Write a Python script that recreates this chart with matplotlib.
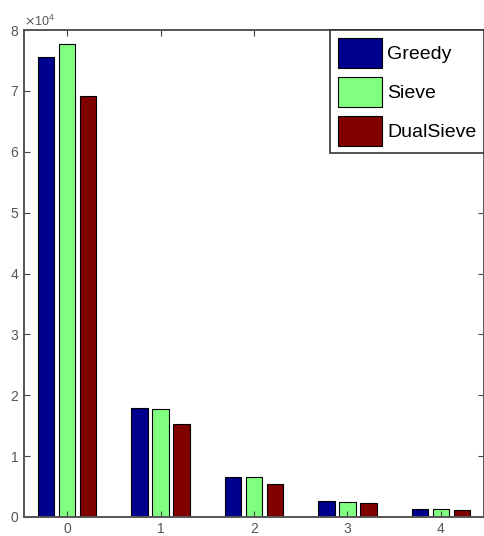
import numpy as np
import matplotlib.pyplot as plt
from matplotlib.ticker import ScalarFormatter

groups = [0, 1, 2, 3, 4]
greedy = [75600, 17900, 6500, 2700, 1300]
sieve = [77700, 17700, 6500, 2500, 1300]
dualsieve = [69200, 15300, 5500, 2300, 1100]

names = ["Greedy", "Sieve", "DualSieve"]
colors = ["#00008f", "#80ff80", "#800000"]

plt.rcParams['font.family'] = ['Liberation Sans', 'DejaVu Sans']

fig = plt.figure(figsize=(4.85, 5.36), dpi=100)
ax = fig.add_axes([24 / 485, 19 / 536, 460 / 485, 487 / 536])

x = np.array(groups)
w = 0.18
step = 0.225
for i, (vals, name, c) in enumerate(zip([greedy, sieve, dualsieve], names, colors)):
    ax.bar(x + (i - 1) * step, vals, width=w, color=c, edgecolor='black',
           linewidth=0.8, label=name)

ax.set_xlim(-0.46, 4.46)
ax.set_ylim(0, 80000)
ax.set_xticks(groups)
ax.set_yticks(np.arange(0, 80001, 10000))

fmt = ScalarFormatter(useMathText=True)
fmt.set_powerlimits((0, 0))
ax.yaxis.set_major_formatter(fmt)
ax.yaxis.get_offset_text().set_fontsize(9)
ax.yaxis.get_offset_text().set_color('#555555')

ax.tick_params(direction='in', length=4, labelsize=10, colors='#444444',
               labelcolor='#555555', top=True, right=True)
for s in ax.spines.values():
    s.set_color('#555555')
    s.set_linewidth(1.4)

leg = ax.legend(loc='upper right', fontsize=14, handlelength=2.27,
                handleheight=2.0, labelspacing=0.46, handletextpad=0.26,
                borderaxespad=0, borderpad=0.39, fancybox=False, framealpha=1)
leg.get_frame().set_edgecolor('#333333')
leg.get_frame().set_linewidth(1.2)

fig.savefig('out.png', dpi=100)
